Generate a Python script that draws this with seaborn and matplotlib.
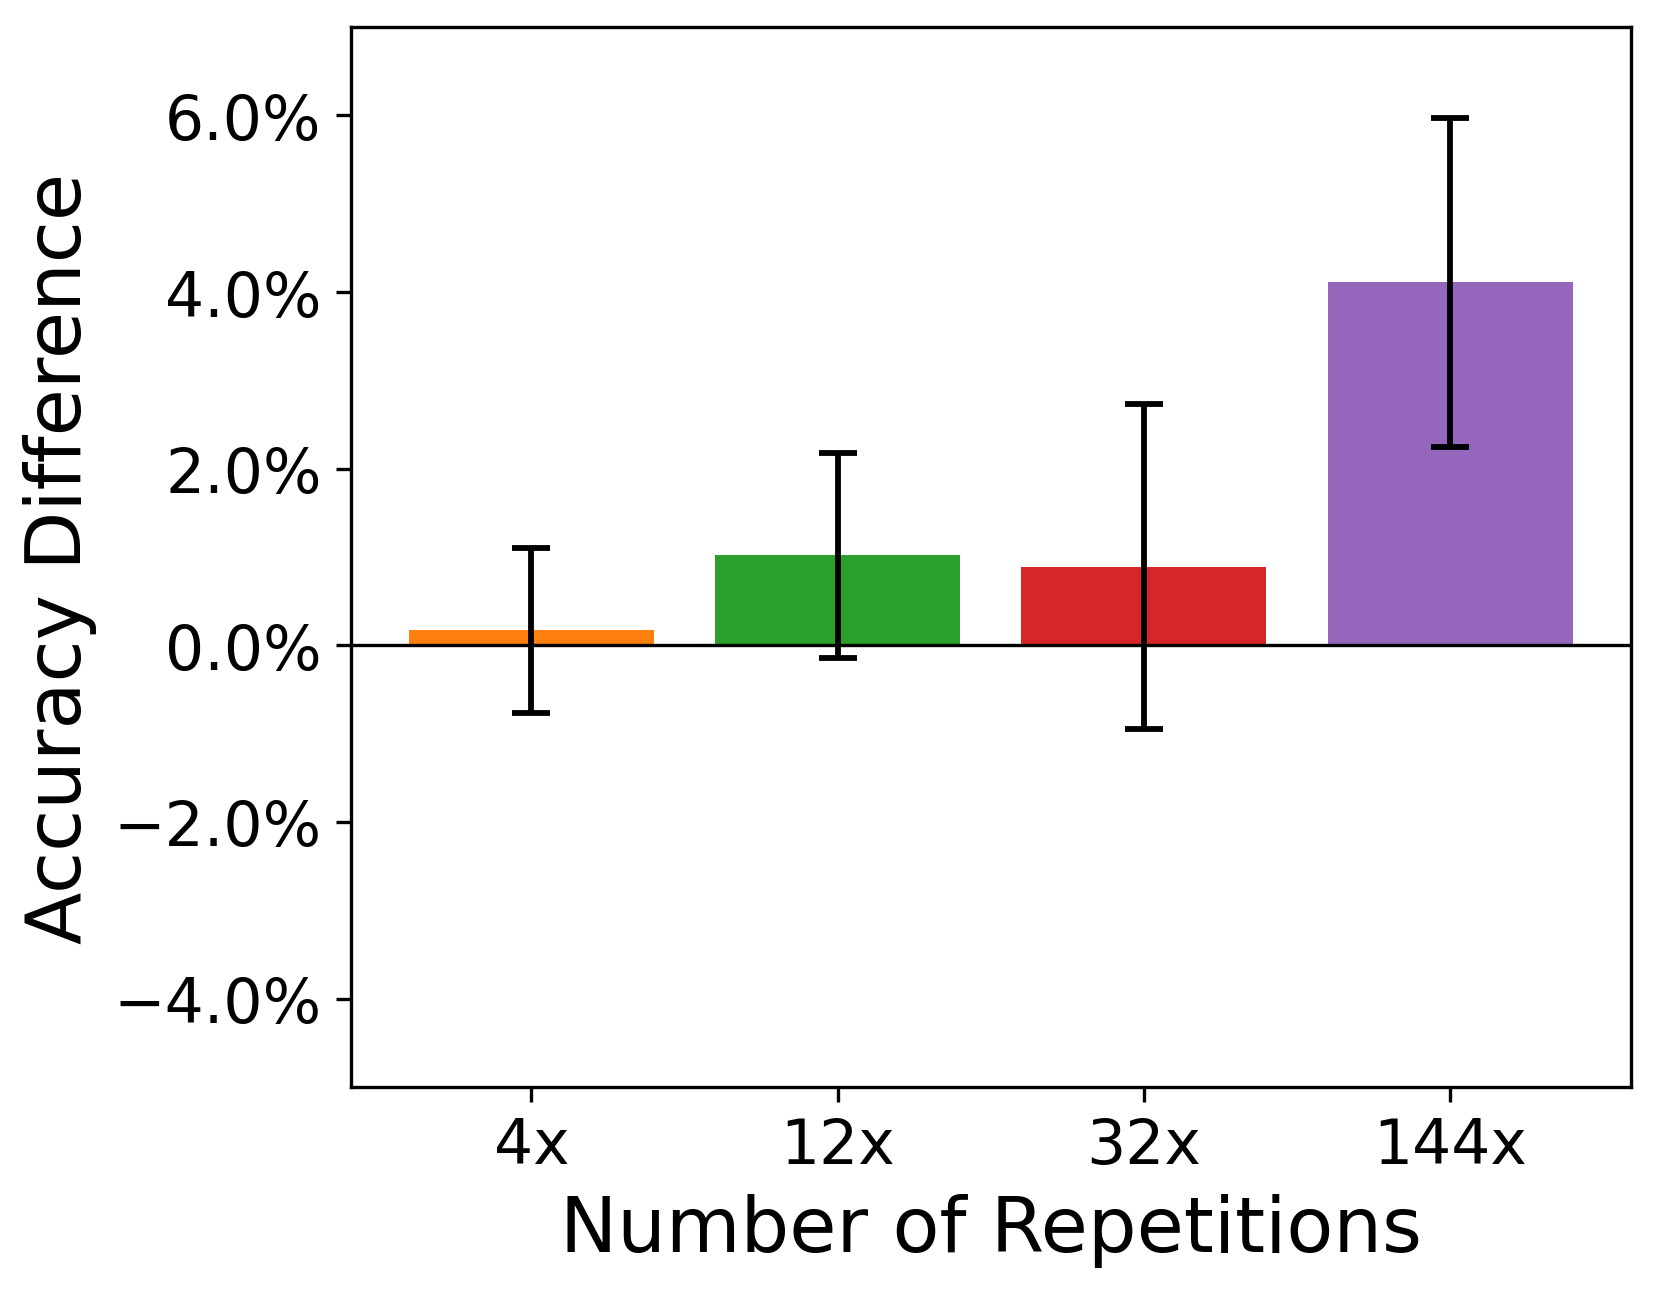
# Accuracy difference by number of repetitions

import matplotlib
matplotlib.use('Agg')
import matplotlib.pyplot as plt
from matplotlib.ticker import PercentFormatter
import seaborn as sns
import pandas as pd

# Values (in percent)
repetitions = ['4x', '12x', '32x', '144x']
acc_diff = [0.17, 1.02, 0.89, 4.11]
acc_err = [0.93, 1.16, 1.84, 1.86]
bar_colors = ['tab:orange', 'tab:green', 'tab:red', 'tab:purple']

df = pd.DataFrame({'Repetitions': repetitions, 'Difference': acc_diff, 'Error': acc_err})

fig = plt.figure(figsize=(5.53, 4.303), dpi=300)
ax = fig.add_axes([0.2114, 0.1572, 0.7717, 0.8211])

sns.barplot(
    data=df,
    x='Repetitions',
    y='Difference',
    hue='Repetitions',
    palette=bar_colors,
    saturation=1,
    width=0.8,
    legend=False,
    ax=ax,
)

# Error bars on top of the bars
ax.errorbar(
    range(len(repetitions)), df['Difference'], yerr=df['Error'],
    fmt='none', ecolor='black', elinewidth=1.4, capsize=4.5, capthick=1.4, zorder=5,
)

ax.axhline(0, color='black', linewidth=0.8)

ax.set_xlim(-0.59, 3.59)
ax.set_ylim(-5, 7)
ax.set_yticks([-4, -2, 0, 2, 4, 6])
ax.yaxis.set_major_formatter(PercentFormatter(xmax=100, decimals=1))

ax.set_xlabel('Number of Repetitions', fontsize=18.4)
ax.set_ylabel('Accuracy Difference', fontsize=18.4)
ax.tick_params(axis='both', labelsize=14.8)

plt.savefig('out.png', dpi=300)
plt.close()
